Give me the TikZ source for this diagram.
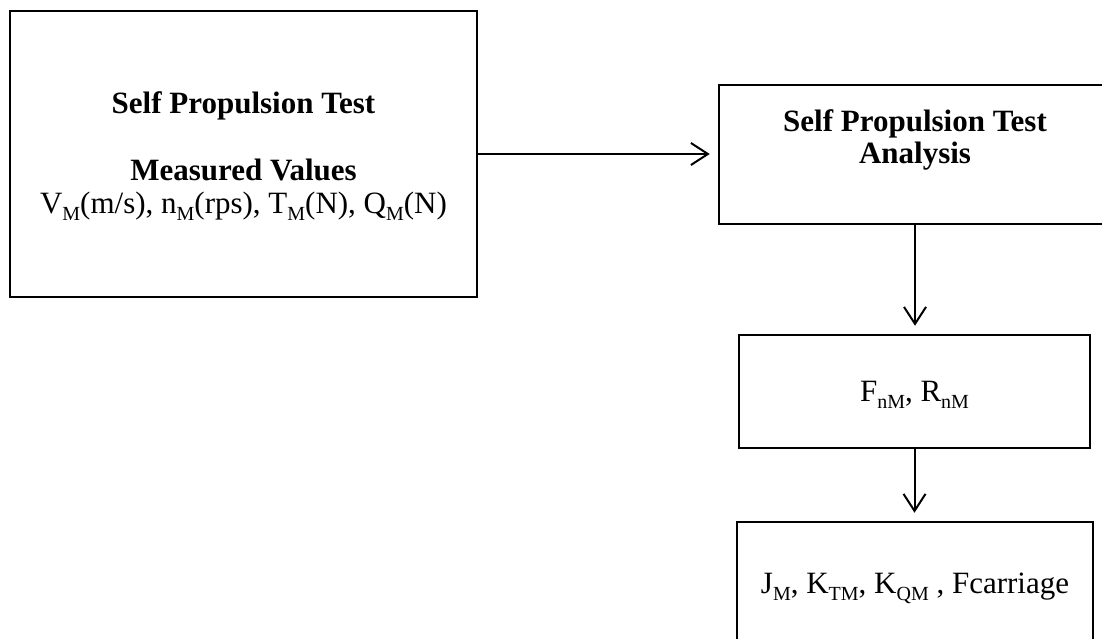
\documentclass[tikz,border=0pt]{standalone}
\usepackage{fontspec}
\setmainfont{Liberation Serif}
\usetikzlibrary{arrows.meta}

% lowered, smaller subscript text
\newcommand{\lsub}[1]{\raisebox{-7pt}{\fontsize{20}{20}\selectfont #1}}

\begin{document}
\begin{tikzpicture}[x=1pt,y=-1pt,
  box/.style={draw=black,line width=2.5pt,fill=white,inner sep=0pt,minimum width=#1},
  txt/.style={anchor=base,inner sep=0pt,font=\fontsize{31}{34}\selectfont},
  btxt/.style={txt,font=\fontsize{31}{34}\selectfont\bfseries},
  arr/.style={line width=2pt,-{Straight Barb[length=17pt,width=22pt,line width=2pt]},shorten >=8pt}]

\useasboundingbox (0,0) rectangle (1102,638);
\clip (0,0) rectangle (1102,638);

% boxes
\node[box=467pt,minimum height=286pt] (b1) at (243.5,154) {};
\node[box=392pt,minimum height=139pt] (b2) at (915,154.5) {};
\node[box=351pt,minimum height=113pt] (b3) at (914.5,391.5) {};
\node[box=356pt,minimum height=126pt] (b4) at (915,585) {};

% text of the measurement box
\node[btxt] (t1a) at (243.5,113) {Self Propulsion Test};
\node[btxt] (t1b) at (243.5,180) {Measured Values};
\node[txt] (t1c) at (243.5,213) {V\lsub{M}(m/s), n\lsub{M}(rps), T\lsub{M}(N), Q\lsub{M}(N)};

% text of the analysis box
\node[btxt] (t2a) at (915,131) {Self Propulsion Test};
\node[btxt] (t2b) at (915,163) {Analysis};

% result boxes
\node[txt] (t3) at (914.5,401) {F\lsub{nM}, R\lsub{nM}};
\node[txt] (t4) at (915,593) {J\lsub{M}, K\lsub{TM}, K\lsub{QM} , Fcarriage};

% connectors
\draw[arr] (b1.east) -- (b1.east -| b2.west);
\draw[arr] (b2.south) -- (b2.south |- b3.north);
\draw[arr] (b3.south) -- (b3.south |- b4.north);

\end{tikzpicture}
\end{document}
